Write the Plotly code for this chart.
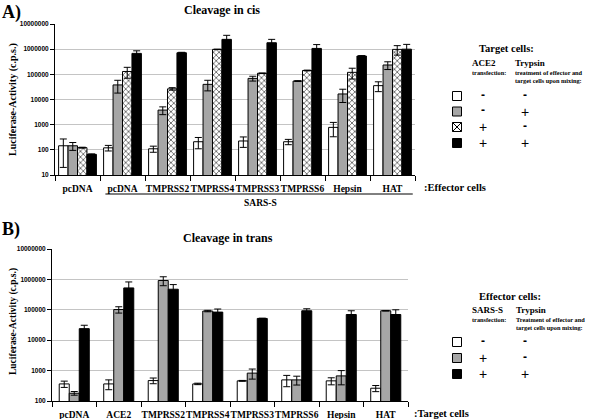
import math
import plotly.graph_objects as go

# ---------------- data: panel A (cleavage in cis) ----------------
cis_categories = ["pcDNA", "pcDNA", "TMPRSS2", "TMPRSS4", "TMPRSS3", "TMPRSS6", "Hepsin", "HAT"]
cis_minus_minus = [145, 120, 110, 210, 225, 210, 780, 35500]
cis_minus_minus_err = [125, 30, 30, 100, 100, 50, 450, 15000]
cis_minus_plus = [145, 38000, 3800, 40000, 69000, 54000, 16600, 235000]
cis_minus_plus_err = [50, 20000, 1300, 18000, 15000, 2000, 9000, 80000]
cis_plus_minus = [122, 130000, 26500, 980000, 110000, 142000, 120000, 980000]
cis_plus_minus_err = [5, 60000, 3000, 20000, 3000, 5000, 55000, 400000]
cis_plus_plus = [66, 680000, 720000, 2450000, 1800000, 1070000, 535000, 1000000]
cis_plus_plus_err = [3, 180000, 30000, 1100000, 650000, 450000, 20000, 550000]

# ---------------- data: panel B (cleavage in trans) ----------------
trans_categories = ["pcDNA", "ACE2", "TMPRSS2", "TMPRSS4", "TMPRSS3", "TMPRSS6", "Hepsin", "HAT"]
trans_minus_minus = [365, 365, 470, 365, 460, 495, 460, 263]
trans_minus_minus_err = [85, 130, 100, 20, 15, 200, 120, 60]
trans_plus_minus = [180, 102000, 920000, 91000, 825, 495, 670, 93000]
trans_plus_minus_err = [25, 24000, 300000, 5000, 300, 160, 330, 2000]
trans_plus_plus = [24000, 525000, 475000, 84000, 52000, 93000, 70000, 70000]
trans_plus_plus_err = [7000, 300000, 200000, 22000, 1000, 15000, 23000, 30000]

cis_ticks = [10, 100, 1000, 10000, 100000, 1000000, 10000000]
trans_ticks = [100, 1000, 10000, 100000, 1000000, 10000000]

legend_a_rows = [("-", "-"), ("-", "+"), ("+", "-"), ("+", "+")]
legend_b_rows = [("-", "-"), ("+", "-"), ("+", "+")]

# ---------------- styling ----------------
W, H = 592, 419
SERIF = "Liberation Serif"
SANS = "Liberation Sans"
GRAY = "#a6a6a6"


def px(x):
    return x / W


def py(y):
    return 1 - y / H


styles = {
    "white": dict(color="white", line=dict(color="black", width=1)),
    "gray": dict(color=GRAY, line=dict(color="black", width=1)),
    "hatch": dict(color="white", line=dict(color="black", width=1),
                  pattern=dict(shape="x", fgcolor="black", bgcolor="white", size=4, solidity=0.25)),
    "black": dict(color="black", line=dict(color="black", width=1)),
}

fig = go.Figure()


def add_panel(series, xa, ya, bar_w):
    n = len(series)
    for i, (vals, errs, st) in enumerate(series):
        fig.add_trace(go.Bar(
            x=list(range(len(vals))), y=vals,
            width=bar_w, offset=(i - n / 2) * bar_w,
            marker=styles[st],
            error_y=dict(type="data", array=errs, color="black", thickness=1, width=3.5),
            xaxis=xa, yaxis=ya, showlegend=False,
        ))


add_panel([(cis_minus_minus, cis_minus_minus_err, "white"),
           (cis_minus_plus, cis_minus_plus_err, "gray"),
           (cis_plus_minus, cis_plus_minus_err, "hatch"),
           (cis_plus_plus, cis_plus_plus_err, "black")], "x", "y", 0.21)
add_panel([(trans_minus_minus, trans_minus_minus_err, "white"),
           (trans_plus_minus, trans_plus_minus_err, "gray"),
           (trans_plus_plus, trans_plus_plus_err, "black")], "x2", "y2", 0.225)


def xaxis_cfg(domain, cats, anchor):
    return dict(
        domain=domain, anchor=anchor, range=[-0.5, len(cats) - 0.5],
        tickmode="array", tickvals=list(range(len(cats))),
        ticktext=[f"<b>{c}</b>" for c in cats], tickangle=0,
        tickfont=dict(family=SERIF, size=9.5, color="black"),
        ticks="outside", ticklen=5, tickcolor="rgba(0,0,0,0)",
        minor=dict(tickmode="array", tickvals=[i - 0.5 for i in range(len(cats) + 1)],
                   ticks="outside", ticklen=5, tickcolor="black", tickwidth=1, showgrid=False),
        showline=True, linecolor="black", linewidth=1,
        showgrid=False, zeroline=False, fixedrange=True,
    )


def yaxis_cfg(domain, ticks, anchor):
    return dict(
        domain=domain, anchor=anchor, type="log",
        range=[math.log10(ticks[0]), math.log10(ticks[-1])],
        tickmode="array", tickvals=ticks, ticktext=[f"<b>{t}</b>" for t in ticks],
        tickfont=dict(family=SANS, size=6.5, color="black"),
        ticks="outside", ticklen=4, tickcolor="black",
        showline=True, linecolor="black", linewidth=1,
        showgrid=True, gridcolor="#c4c4c4", gridwidth=1, zeroline=False, fixedrange=True,
    )


annotations = []
shapes = []


def txt(text, x, y, size, family=SERIF, bold=True, xanchor="left", angle=0):
    annotations.append(dict(
        text=f"<b>{text}</b>" if bold else text, x=px(x), y=py(y),
        xref="paper", yref="paper", xanchor=xanchor, yanchor="middle",
        showarrow=False, textangle=angle, font=dict(family=family, size=size, color="black"),
    ))


# panel A texts
txt("A)", 0, 12, 18)
txt("Cleavage in cis", 222, 10, 12, xanchor="center")
txt("Luciferase-Activity (c.p.s.)", 13, 100, 10, xanchor="center", angle=-90)
txt(":Effector cells", 422, 187, 10.5)
txt("SARS-S", 260, 203, 9.5, xanchor="center")
shapes.append(dict(type="line", xref="x", yref="paper", x0=0.62, x1=7.45,
                   y0=py(194), y1=py(194), line=dict(color="black", width=1)))
txt("Target cells:", 506, 48, 10.5, xanchor="center")
txt("ACE2", 470, 63, 9)
txt("transfection:", 470, 72, 6.3)
txt("Trypsin", 513, 63, 9)
txt("treatment of effector and", 513, 72, 6.3)
txt("target cells upon mixing:", 513, 80.5, 6.3)

# panel B texts
txt("B)", 0, 230, 18)
txt("Cleavage in trans", 228, 238, 12, xanchor="center")
txt("Luciferase-Activity (c.p.s.)", 13, 322, 9.5, xanchor="center", angle=-90)
txt(":Target cells", 412, 413, 10.5)
txt("Effector cells:", 510, 296, 10.5, xanchor="center")
txt("SARS-S", 470, 310, 9)
txt("transfection:", 470, 319, 6.3)
txt("Trypsin", 514, 310, 9)
txt("Treatment of effector and", 514, 319, 6.3)
txt("target cells upon mixing:", 514, 327.5, 6.3)


def legend_rows(rows, ys, kinds):
    for (a, b), y, kind in zip(rows, ys, kinds):
        fill = {"white": "white", "gray": GRAY, "hatch": "white", "black": "black"}[kind]
        shapes.append(dict(type="rect", xref="paper", yref="paper",
                           x0=px(452.5), x1=px(461.5), y0=py(y + 4.5), y1=py(y - 4.5),
                           fillcolor=fill, line=dict(color="black", width=1)))
        if kind == "hatch":
            shapes.append(dict(type="line", xref="paper", yref="paper",
                               x0=px(452.5), x1=px(461.5), y0=py(y + 4.5), y1=py(y - 4.5),
                               line=dict(color="black", width=1)))
            shapes.append(dict(type="line", xref="paper", yref="paper",
                               x0=px(452.5), x1=px(461.5), y0=py(y - 4.5), y1=py(y + 4.5),
                               line=dict(color="black", width=1)))
        for sign, x in ((a, 483), (b, 525)):
            if sign == "+":
                txt("+", x, y, 14, family=SANS, bold=False, xanchor="center")
            else:
                txt("-", x, y - 1, 12, family=SANS, bold=True, xanchor="center")


legend_rows(legend_a_rows, [96, 111.5, 127, 143], ["white", "gray", "hatch", "black"])
legend_rows(legend_b_rows, [342, 358, 374], ["white", "gray", "black"])

fig.update_layout(
    template="none",
    width=W, height=H, margin=dict(l=0, r=0, t=0, b=0),
    paper_bgcolor="white", plot_bgcolor="white",
    barmode="overlay", showlegend=False,
    xaxis=xaxis_cfg([px(55), px(415)], cis_categories, "y"),
    yaxis=yaxis_cfg([py(175), py(24)], cis_ticks, "x"),
    xaxis2=xaxis_cfg([px(52), px(408)], trans_categories, "y2"),
    yaxis2=yaxis_cfg([py(401), py(249)], trans_ticks, "x2"),
    annotations=annotations, shapes=shapes,
)

fig.write_html("out.html",
               config={"displayModeBar": False},
               post_script="document.body.style.margin='0';document.body.style.padding='0';")
